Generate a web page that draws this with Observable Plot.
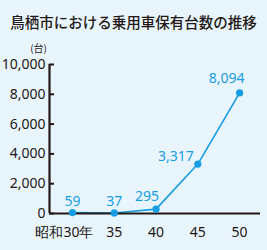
<!DOCTYPE html>
<html><head><meta charset="utf-8">
<script src="https://cdn.jsdelivr.net/npm/d3@7"></script>
<script src="https://cdn.jsdelivr.net/npm/@observablehq/plot@0.6"></script>
<style>
html,body{margin:0;padding:0;background:#e9f5fc;width:267px;height:250px;overflow:hidden;}
#title{height:36px;line-height:44px;text-align:center;font-family:"Noto Sans CJK JP",sans-serif;font-size:14.5px;font-weight:500;color:#231815;white-space:nowrap;}
svg{display:block;}
</style></head><body>
<div id="title">鳥栖市における乗用車保有台数の推移</div>
<div id="chart"></div>
<script>
const years = [30, 35, 40, 45, 50];
const counts = [59, 37, 295, 3317, 8094];
const yearLabels = ["昭和30年", "35", "40", "45", "50"];
const yTicks = [0, 2000, 4000, 6000, 8000, 10000];
const unitLabel = "(台)";

const data = years.map((y, i) => ({year: y, count: counts[i], label: yearLabels[i]}));
const xMin = 27.25, xMax = 52.5;
const blue = "#169de4", ink = "#231815";
const font = "'Noto Sans', sans-serif";

const chart = Plot.plot({
  width: 267, height: 214,
  marginLeft: 49, marginRight: 7, marginTop: 28, marginBottom: 37,
  style: {background: "transparent", fontFamily: font},
  x: {domain: [xMin, xMax], axis: null},
  y: {domain: [0, 10000], axis: null},
  marks: [
    Plot.axisY(yTicks, {tickSize: -5, tickPadding: 9, tickFormat: d3.format(","), fontSize: 14, color: ink, strokeWidth: 2, label: null}),
    Plot.ruleX([xMin], {y1: 0, y2: 10000, stroke: ink, strokeWidth: 2.2}),
    Plot.line(data, {x: "year", y: "count", stroke: blue, strokeWidth: 1.6}),
    Plot.ruleY([0], {stroke: ink, strokeWidth: 2.2}),
    Plot.dot(data, {x: "year", y: "count", r: 3.6, fill: blue}),
    Plot.text(data.slice(0, 2), {x: "year", y: "count", text: d => d3.format(",")(d.count), dy: -11, fill: blue, fontSize: 14}),
    Plot.text(data.slice(2, 3), {x: "year", y: "count", text: d => d3.format(",")(d.count), dx: -9, dy: -13, fill: blue, fontSize: 14}),
    Plot.text(data.slice(3, 4), {x: "year", y: "count", text: d => d3.format(",")(d.count), dx: -22, dy: -8, fill: blue, fontSize: 14}),
    Plot.text(data.slice(4, 5), {x: "year", y: "count", text: d => d3.format(",")(d.count), dx: -13, dy: -14, fill: blue, fontSize: 14}),
    Plot.text(data.slice(0, 1), {x: "year", y: 0, text: "label", dx: -8, dy: 19, fill: ink, fontSize: 14}),
    Plot.text(data.slice(1), {x: "year", y: 0, text: "label", dy: 19, fill: ink, fontSize: 14}),
    Plot.text([unitLabel], {frameAnchor: "top-left", text: d => d, textAnchor: "middle", dx: -11, dy: -20, fill: ink, fontSize: 10, fontFamily: "'Noto Sans CJK JP', sans-serif"})
  ]
});
document.getElementById("chart").appendChild(chart);
</script>
</body></html>
